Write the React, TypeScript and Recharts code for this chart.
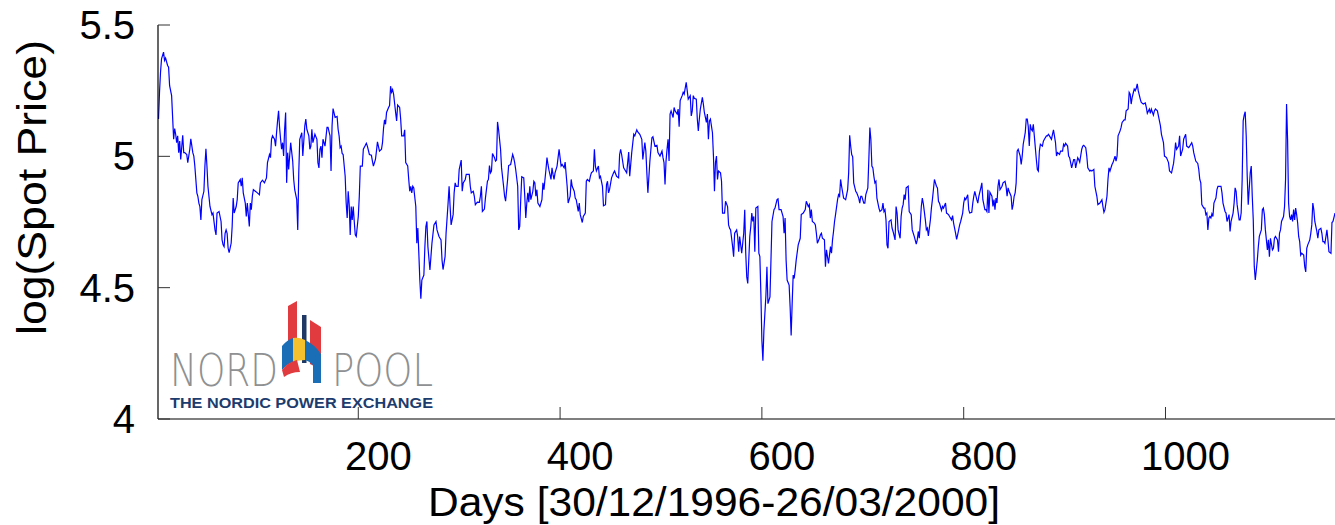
import { Line, LineChart, XAxis, YAxis } from 'recharts';

// day index (1 = 30/12/1996) and log of the Nord Pool system spot price
const dayIndex = [
  2, 3, 4, 5, 7, 8, 9, 11, 12, 13, 15, 17, 18, 19, 20, 21, 22, 23, 24, 26, 27, 28, 30, 31, 33, 34, 36, 37, 38, 40,
  41, 42, 43, 44, 45, 47, 48, 49, 50, 51, 53, 55, 56, 58, 59, 60, 62, 64, 65, 66, 67, 68, 69, 70, 71, 72, 74, 75, 76, 77,
  79, 80, 81, 83, 84, 85, 86, 88, 89, 90, 92, 93, 94, 95, 96, 98, 100, 102, 103, 105, 107, 109, 110, 112, 113, 114, 115, 117, 118, 119,
  120, 121, 122, 123, 124, 125, 126, 127, 128, 129, 130, 131, 132, 133, 135, 136, 137, 139, 140, 141, 142, 144, 145, 147, 148, 149, 151, 152,
  153, 154, 155, 157, 159, 160, 161, 162, 163, 164, 165, 167, 169, 170, 172, 173, 174, 175, 177, 179, 180, 181, 182, 183, 184, 185, 187, 188, 189, 190,
  191, 192, 193, 194, 195, 196, 197, 198, 200, 201, 202, 204, 205, 207, 208, 209, 211, 213, 214, 215, 217, 218, 219, 221, 223, 224, 225, 226, 227, 228,
  230, 231, 232, 233, 234, 235, 237, 238, 239, 241, 242, 243, 245, 246, 247, 249, 250, 251, 252, 253, 254, 255, 257, 258, 259, 260, 261, 262, 263, 265,
  266, 267, 268, 269, 271, 272, 273, 275, 277, 278, 280, 282, 283, 284, 286, 287, 289, 290, 291, 292, 294, 295, 296, 297, 299, 300,
  302, 303, 304, 306, 307, 310, 311, 312, 314, 315, 316, 318, 320, 321, 322, 323, 325, 326, 328, 329, 330, 331, 332, 333, 335, 336, 337, 338, 339, 341,
  342, 344, 345, 346, 348, 349, 351, 353, 354, 355, 356, 358, 359, 360, 361, 362, 364, 365, 366, 367, 368, 369, 370, 371, 373, 374, 375, 376, 377, 378,
  380, 382, 383, 384, 386, 387, 388, 389, 391, 392, 393, 394, 395, 397, 398, 399, 400, 401, 402, 404, 405, 407, 408, 410, 411, 412, 414, 415, 416, 418,
  419, 420, 422, 423, 425, 426, 427, 429, 430, 431, 433, 434, 435, 436, 438, 439, 440, 442, 443, 445, 446, 447, 448, 449,
  451, 453, 454, 456, 458, 459, 460, 461, 463, 464, 466, 468, 469, 471, 473, 474, 476, 477, 479, 481, 482, 484, 485, 486, 487, 489, 491, 492, 494, 496,
  497, 499, 501, 502, 503, 504, 505, 506, 507, 508, 509, 510, 512, 513, 514, 516, 517, 518, 519, 521, 522, 523, 525, 526, 527, 529, 530, 531, 532, 533,
  535, 536, 537, 538, 539, 541, 542, 543, 545, 546, 547, 548, 549, 551, 552, 553, 554, 555, 556, 557, 559, 560, 561, 563, 564, 566, 567, 568, 569, 571,
  572, 573, 575, 576, 577, 578, 580, 582, 583, 584, 585, 586, 587, 588, 589, 590, 591, 592, 593, 594, 596, 597, 598,
  599, 600, 601, 602, 604, 605, 606, 608, 609, 610, 612, 613, 615, 616, 617, 619, 621, 622, 623, 624, 625, 627, 628, 629, 630, 631, 632, 633, 634, 636,
  638, 639, 641, 643, 644, 646, 647, 648, 649, 650, 652, 653, 654, 655, 657, 658, 659, 660, 662, 663, 664, 665, 666, 668, 669, 670, 671, 672, 673, 675,
  676, 677, 678, 679, 681, 682, 683, 685, 686, 687, 688, 689, 690, 691, 693, 694, 696, 697, 698, 699, 701, 702, 703, 705, 706, 707, 708, 709, 710, 711,
  712, 713, 714, 716, 717, 719, 720, 721, 722, 723, 724, 725, 726, 728, 729, 730, 732, 733, 734, 735, 737, 738, 739, 740, 741, 742, 743, 745, 746,
  748, 749, 751, 753, 754, 755, 756, 757, 758, 759, 760, 762, 763, 764, 765, 767, 768, 769, 770, 771, 773, 774, 775, 776, 778, 779, 780, 782, 783, 785,
  786, 788, 789, 790, 792, 793, 794, 795, 796, 797, 799, 800, 801, 802, 804, 805, 806, 808, 809, 810, 811, 813, 814, 815, 817, 818, 819, 821, 822, 823,
  824, 825, 826, 828, 829, 830, 831, 832, 833, 834, 835, 836, 838, 839, 841, 842, 843, 844, 845, 847, 848, 849, 850, 851, 852, 853, 854, 856, 857, 858,
  859, 861, 862, 863, 864, 865, 866, 867, 868, 869, 870, 872, 873, 874, 875, 876, 878, 879, 880, 882, 883, 884, 885, 887, 888, 889, 891, 892, 893, 895,
  896, 898, 899, 900, 901, 903, 904, 905, 906, 907, 909, 910, 911, 913, 914, 915, 917, 918, 919, 921, 922, 923, 925, 926, 927, 929, 930, 932, 933, 935,
  937, 938, 939, 940, 942, 943, 944, 945, 947, 948, 950, 951, 952, 953, 955, 956, 957, 959, 960, 961, 963, 964, 965, 966, 967, 969, 970, 971, 972, 973,
  975, 976, 978, 980, 981, 982, 984, 985, 986, 988, 989, 990, 992, 993, 995, 996, 998, 999, 1001, 1003, 1004, 1006, 1008, 1009, 1010, 1011, 1013, 1014, 1015, 1017,
  1018, 1020, 1021, 1023, 1024, 1026, 1027, 1028, 1030, 1032, 1033, 1034, 1035, 1036, 1038, 1039, 1040, 1041, 1042, 1043, 1044,
  1045, 1046, 1047, 1048, 1050, 1051, 1052, 1054, 1055, 1056, 1057, 1059, 1060, 1061, 1063, 1064, 1065, 1067, 1068, 1069, 1070, 1071, 1073, 1074, 1075, 1076, 1077, 1078, 1079, 1080,
  1081, 1082, 1084, 1085, 1086, 1087, 1088, 1089, 1091, 1092, 1093, 1095, 1096, 1097, 1098, 1099, 1101, 1102, 1103, 1104, 1106, 1107, 1108, 1109, 1111, 1112, 1113, 1114, 1115, 1117,
  1118, 1119, 1120, 1121, 1122, 1123, 1124, 1125, 1126, 1127, 1128, 1129, 1130, 1131, 1132, 1133, 1134, 1135, 1137, 1138, 1139, 1140, 1141, 1143, 1144, 1145, 1146, 1147, 1148, 1150,
  1151, 1152, 1154, 1155, 1156, 1157, 1158, 1160, 1161, 1162, 1164, 1165, 1166, 1168,
];

const logSpotPrice = [
  5.142, 5.244, 5.32, 5.371, 5.397, 5.365, 5.374, 5.346, 5.339, 5.269, 5.231, 5.065, 5.106, 5.084, 5.052, 5.078, 5.014, 5.058, 4.988, 5.08, 5.014, 5.014, 5.007, 4.976, 5.027, 5.067, 5.014, 5.001, 4.963, 4.861,
  4.848, 4.822, 4.809, 4.758, 4.835, 4.867, 4.963, 5.029, 4.963, 4.886, 4.809, 4.778, 4.784, 4.72, 4.701, 4.784, 4.79, 4.752, 4.682, 4.663, 4.656, 4.707, 4.72, 4.707, 4.65, 4.633, 4.669, 4.733, 4.841, 4.784,
  4.809, 4.835, 4.899, 4.912, 4.886, 4.918, 4.861, 4.822, 4.771, 4.822, 4.733, 4.822, 4.797, 4.848, 4.873, 4.867, 4.861, 4.854, 4.899, 4.909, 4.899, 4.918, 4.976, 5.007, 4.995, 5.065, 5.078, 5.065, 5.039, 5.09,
  5.135, 5.173, 5.11, 5.065, 5.027, 5.052, 5.001, 5.103, 5.167, 4.899, 5.014, 4.95, 5.001, 5.052, 4.982, 4.912, 4.873, 4.835, 4.72, 4.937, 5.065, 5.09, 5.001, 5.116, 5.142, 5.103, 5.078, 5.027,
  5.039, 5.103, 5.052, 5.084, 5.065, 4.976, 4.956, 5.027, 5.039, 4.995, 5.065, 5.039, 5.11, 5.11, 5.078, 4.944, 5.116, 5.182, 5.148, 5.152, 5.103, 5.078, 5.033, 5.039, 5.011, 5.007, 4.924, 4.822, 4.765, 4.867,
  4.816, 4.701, 4.809, 4.758, 4.809, 4.752, 4.701, 4.695, 4.771, 4.848, 4.963, 4.963, 5.027, 5.042, 5.05, 5.039, 5.007, 5.004, 4.982, 4.963, 4.988, 5.02, 5.055, 5.02, 5.027, 5.052, 5.106, 5.139, 5.122, 5.167,
  5.186, 5.193, 5.267, 5.244, 5.254, 5.237, 5.167, 5.135, 5.195, 5.186, 5.142, 5.078, 5.078, 5.101, 4.976, 4.963, 4.912, 4.867, 4.886, 4.861, 4.886, 4.88, 4.809, 4.669, 4.727, 4.631, 4.529, 4.458, 4.529, 4.548,
  4.656, 4.733, 4.752, 4.656, 4.567, 4.618, 4.669, 4.739, 4.752, 4.72, 4.695, 4.682, 4.605, 4.569, 4.618, 4.707, 4.822, 4.886, 4.809, 4.739, 4.778, 4.861, 4.899, 4.886, 4.886, 4.95,
  4.986, 4.867, 4.899, 4.912, 4.931, 4.931, 4.886, 4.861, 4.867, 4.848, 4.816, 4.826, 4.825, 4.848, 4.886, 4.79, 4.799, 4.841, 4.905, 4.912, 4.965, 4.937, 4.944, 5.011, 4.995, 4.982, 4.986, 5.131, 5.103, 5.027,
  4.956, 4.886, 4.848, 4.829, 4.912, 4.965, 4.969, 5.007, 4.995, 4.976, 4.95, 4.886, 4.72, 4.733, 4.835, 4.922, 4.918, 4.848, 4.765, 4.822, 4.861, 4.825, 4.886, 4.835, 4.867, 4.905, 4.899, 4.848, 4.873, 4.822,
  4.809, 4.835, 4.899, 4.873, 4.95, 4.995, 4.969, 4.947, 4.912, 4.956, 4.931, 4.912, 4.937, 4.963, 4.995, 5.027, 4.995, 4.963, 4.969, 4.956, 4.978, 4.886, 4.822, 4.848, 4.912, 4.886, 4.867, 4.841, 4.835, 4.79,
  4.822, 4.778, 4.748, 4.771, 4.784, 4.905, 4.912, 4.905, 4.924, 4.937, 4.944, 5.027, 4.963, 4.944, 4.963, 4.918, 4.924, 4.886, 4.812, 4.816, 4.892, 4.905, 4.861, 4.873,
  4.918, 4.937, 4.944, 4.924, 4.918, 5.007, 5.027, 5.007, 4.956, 4.95, 4.937, 5.016, 4.924, 5.014, 5.084, 5.078, 5.101, 5.093, 5.084, 5.065, 4.988, 5.052, 5.02, 4.937, 4.861, 4.982, 5.071, 5.075, 5.039, 5.042,
  5.014, 5.001, 5.02, 4.995, 4.976, 4.893, 4.982, 5.027, 5.065, 4.982, 5.161, 5.173, 5.148, 5.186, 5.173, 5.161, 5.18, 5.113, 5.212, 5.231, 5.244, 5.237, 5.282, 5.25, 5.218, 5.231, 5.154, 5.173, 5.231, 5.221,
  5.218, 5.142, 5.097, 5.142, 5.18, 5.225, 5.199, 5.167, 5.129, 5.161, 5.065, 5.135, 5.142, 5.09, 5.001, 4.867, 4.976, 5.001, 4.912, 4.944, 4.937, 4.905, 4.784, 4.784, 4.829, 4.809, 4.739, 4.726, 4.72, 4.656,
  4.618, 4.707, 4.72, 4.695, 4.637, 4.695, 4.631, 4.707, 4.797, 4.631, 4.541, 4.516, 4.605, 4.695, 4.733, 4.784, 4.752, 4.771, 4.637, 4.803, 4.809, 4.631, 4.618,
  4.477, 4.299, 4.222, 4.337, 4.471, 4.58, 4.439, 4.465, 4.605, 4.752, 4.797, 4.803, 4.835, 4.838, 4.797, 4.797, 4.771, 4.707, 4.765, 4.605, 4.529, 4.51, 4.426, 4.318, 4.439, 4.548, 4.535, 4.567, 4.605, 4.663,
  4.688, 4.778, 4.784, 4.797, 4.829, 4.809, 4.816, 4.765, 4.797, 4.752, 4.746, 4.739, 4.707, 4.669, 4.688, 4.701, 4.707, 4.688, 4.682, 4.58, 4.644, 4.618, 4.592, 4.656, 4.631, 4.682, 4.714, 4.752, 4.778, 4.835,
  4.854, 4.848, 4.912, 4.886, 4.841, 4.838, 4.835, 4.873, 4.937, 5.08, 5.039, 5.007, 4.998, 4.899, 4.867, 4.861, 4.841, 4.822, 4.848, 4.848, 4.822, 4.822, 4.854, 4.88, 4.988, 5.11, 5.065, 4.963, 4.956, 4.924,
  4.899, 4.905, 4.841, 4.803, 4.79, 4.797, 4.822, 4.79, 4.797, 4.758, 4.663, 4.65, 4.752, 4.758, 4.727, 4.714, 4.682, 4.809, 4.784, 4.72, 4.688, 4.771, 4.803, 4.816, 4.854, 4.835, 4.88, 4.886, 4.79,
  4.778, 4.72, 4.695, 4.666, 4.682, 4.714, 4.688, 4.746, 4.809, 4.841, 4.82, 4.758, 4.72, 4.727, 4.697, 4.758, 4.803, 4.835, 4.873, 4.912, 4.886, 4.88, 4.829, 4.822, 4.794, 4.809, 4.803, 4.822, 4.784, 4.778,
  4.771, 4.758, 4.774, 4.746, 4.707, 4.684, 4.701, 4.72, 4.739, 4.752, 4.784, 4.822, 4.841, 4.835, 4.854, 4.797, 4.784, 4.787, 4.822, 4.848, 4.867, 4.835, 4.822, 4.848, 4.88, 4.899, 4.835, 4.797, 4.797, 4.79,
  4.873, 4.784, 4.863, 4.848, 4.809, 4.835, 4.797, 4.841, 4.822, 4.886, 4.912, 4.873, 4.886, 4.899, 4.905, 4.886, 4.848, 4.88, 4.867, 4.848, 4.797, 4.816, 4.848, 4.861, 4.899, 5.02, 5.027, 5.001, 4.969, 5.001,
  5.046, 5.09, 5.142, 5.142, 5.113, 5.039, 5.122, 5.103, 5.097, 5.122, 5.078, 4.988, 4.95, 4.944, 5.02, 5.046, 5.039, 5.058, 5.065, 5.078, 5.078, 5.084, 5.078, 5.065, 5.084, 5.101, 5.052, 5.001, 5.014, 5.007,
  5.02, 5.02, 5.046, 5.039, 5.05, 5.039, 5.001, 4.995, 4.976, 4.956, 4.988, 4.988, 4.956, 4.995, 4.988, 4.978, 5.027, 5.039, 5.042, 5.033, 5.001, 4.956, 4.944, 4.947, 4.944, 4.95, 4.886, 4.848, 4.816, 4.822,
  4.835, 4.809, 4.787, 4.797, 4.848, 4.912, 4.956, 4.944, 4.969, 4.976, 5.001, 4.982, 5.001, 5.078, 5.097, 5.11, 5.129, 5.139, 5.139, 5.173, 5.18, 5.244, 5.237, 5.199, 5.225, 5.256, 5.25, 5.259, 5.276, 5.25,
  5.218, 5.205, 5.199, 5.203, 5.186, 5.164, 5.18, 5.164, 5.18, 5.157, 5.173, 5.18, 5.173, 5.154, 5.116, 5.084, 5.052, 5.001, 4.995, 4.976, 4.944, 4.937, 4.973, 5.007, 5.052, 5.027, 5.039, 5.078, 5.001, 5.027,
  5.065, 5.084, 5.039, 5.033, 5.039, 5.052, 5.039, 5.014, 4.982, 4.973, 4.95, 4.912, 4.899, 4.816, 4.803, 4.803, 4.778, 4.784, 4.72, 4.765, 4.771,
  4.765, 4.781, 4.771, 4.822, 4.841, 4.873, 4.886, 4.886, 4.886, 4.861, 4.822, 4.79, 4.784, 4.752, 4.778, 4.714, 4.752, 4.784, 4.822, 4.88, 4.867, 4.816, 4.758, 4.758, 4.784, 4.912, 5.135, 5.157, 5.17, 5.078,
  4.924, 4.816, 4.937, 4.963, 4.848, 4.758, 4.58, 4.529, 4.605, 4.656, 4.695, 4.72, 4.797, 4.803, 4.778, 4.72, 4.644, 4.682, 4.618, 4.688, 4.644, 4.65, 4.688, 4.695, 4.682, 4.637, 4.707, 4.72, 4.752, 4.771,
  4.809, 4.912, 5.199, 5.065, 4.822, 4.771, 4.758, 4.778, 4.752, 4.797, 4.758, 4.803, 4.778, 4.746, 4.695, 4.675, 4.624, 4.631, 4.624, 4.58, 4.56, 4.65, 4.663, 4.682, 4.707, 4.739, 4.822, 4.797, 4.752, 4.714,
  4.688, 4.72, 4.726, 4.707, 4.675, 4.675, 4.669, 4.72, 4.682, 4.637, 4.631, 4.748, 4.752, 4.784,
];

const dayTicks = [200, 400, 600, 800, 1000];
const priceTicks = [4, 4.5, 5, 5.5];
const xTitle = 'Days [30/12/1996-26/03/2000]';
const yTitle = 'log(Spot Price)';

const FONT = '"Liberation Sans", Arial, Helvetica, sans-serif';
const TICK_LEN = 12;
const TICK_COLOR = '#333';

const n = Math.min(dayIndex.length, logSpotPrice.length);
const data = dayIndex.slice(0, n).map((day, i) => ({ day, price: logSpotPrice[i] }));

// the original figure prints its day labels a little to the right of the tick marks
const BottomTick = ({ x, y, payload }: any) => (
  <g>
    <line x1={x} y1={y} x2={x} y2={y - TICK_LEN} stroke={TICK_COLOR} />
    <text x={x + 20} y={y + 51} textAnchor="middle" fontSize={40} fontFamily={FONT} fill="#000">
      {payload.value}
    </text>
  </g>
);

const TopTick = ({ x, y }: any) => (
  <line x1={x} y1={y} x2={x} y2={y + TICK_LEN} stroke={TICK_COLOR} />
);

const LeftTick = ({ x, y, payload }: any) => (
  <g>
    <line x1={x} y1={y} x2={x + TICK_LEN} y2={y} stroke={TICK_COLOR} />
    <text x={x - 23} y={y} dy={14} textAnchor="end" fontSize={40} fontFamily={FONT} fill="#000">
      {payload.value}
    </text>
  </g>
);

const RightTick = ({ x, y }: any) => (
  <line x1={x} y1={y} x2={x - TICK_LEN} y2={y} stroke={TICK_COLOR} />
);

const NordPoolLogo = () => (
  <g>
    <polygon points="288,306 297,301 297,352 288,352" fill="#e23b3f" />
    <rect x={302} y={315} width={4.5} height={48} fill="#1f3864" />
    <polygon points="310,320 321,327 321,383 314,383 314,366 310,364" fill="#e23b3f" />
    <path d="M282,346 Q287,340 293,338 L293,362 Q287,364 282,370 Z" fill="#1a6eb5" />
    <path d="M293,338 Q299,337 305,340 L305,360 Q299,360 293,362 Z" fill="#f5c22e" />
    <path d="M305,340 Q314,344 321,354 L321,383 L313,383 L313,365 Q309,361 305,360 Z" fill="#1a6eb5" />
    <path d="M282,370 Q288,362 297,360 L300,372 Q291,372 284,377 Z" fill="#e23b3f" />
    <text x={170} y={386} fontSize={44} fontFamily='"DejaVu Sans", sans-serif' fontWeight={200}
      fill="#8e9091" textLength={108} lengthAdjust="spacingAndGlyphs">NORD</text>
    <text x={332} y={386} fontSize={44} fontFamily='"DejaVu Sans", sans-serif' fontWeight={200}
      fill="#8e9091" textLength={101} lengthAdjust="spacingAndGlyphs">POOL</text>
    <text x={170} y={408} fontSize={14} fontFamily={FONT} fontWeight="bold"
      fill="#1d3c6e" textLength={263} lengthAdjust="spacingAndGlyphs">THE NORDIC POWER EXCHANGE</text>
  </g>
);

export default function App() {
  return (
    <div style={{ position: 'absolute', left: 0, top: 0, width: 1335, height: 525, background: '#fff', overflow: 'hidden' }}>
      <LineChart width={1335} height={525} data={data} margin={{ top: 25, right: 0, left: 0, bottom: 0 }}>
        <XAxis dataKey="day" type="number" domain={[1.5, 1168]} ticks={dayTicks} interval={0}
          allowDataOverflow height={106} tickSize={0} tickMargin={0} tickLine={false}
          axisLine={{ stroke: '#000', strokeWidth: 1.2 }} tick={<BottomTick />} />
        <XAxis xAxisId="top" orientation="top" dataKey="day" type="number" domain={[1.5, 1168]}
          ticks={dayTicks} interval={0} allowDataOverflow height={0} tickSize={0} tickMargin={0}
          tickLine={false} axisLine={{ stroke: '#000', strokeWidth: 1.2 }} tick={<TopTick />} />
        <YAxis type="number" domain={[4, 5.5]} ticks={priceTicks} interval={0} allowDataOverflow
          width={158} tickSize={0} tickMargin={0} tickLine={false}
          axisLine={{ stroke: '#000', strokeWidth: 1.2 }} tick={<LeftTick />} />
        <YAxis yAxisId="right" orientation="right" type="number" domain={[4, 5.5]} ticks={priceTicks}
          interval={0} allowDataOverflow width={0} tickSize={0} tickMargin={0} tickLine={false}
          axisLine={{ stroke: '#000', strokeWidth: 1.2 }} tick={<RightTick />} />
        <Line type="linear" dataKey="price" stroke="#0000ff" strokeWidth={1.2} dot={false}
          activeDot={false} isAnimationActive={false} />
      </LineChart>
      <svg width={1335} height={525} style={{ position: 'absolute', left: 0, top: 0, pointerEvents: 'none' }}>
        <text x={428} y={516} fontSize={41} fontFamily={FONT} fill="#000"
          textLength={572} lengthAdjust="spacingAndGlyphs">{xTitle}</text>
        <text transform="rotate(-90)" x={-335} y={46} fontSize={40} fontFamily={FONT} fill="#000"
          textLength={295} lengthAdjust="spacingAndGlyphs">{yTitle}</text>
        <NordPoolLogo />
      </svg>
    </div>
  );
}
